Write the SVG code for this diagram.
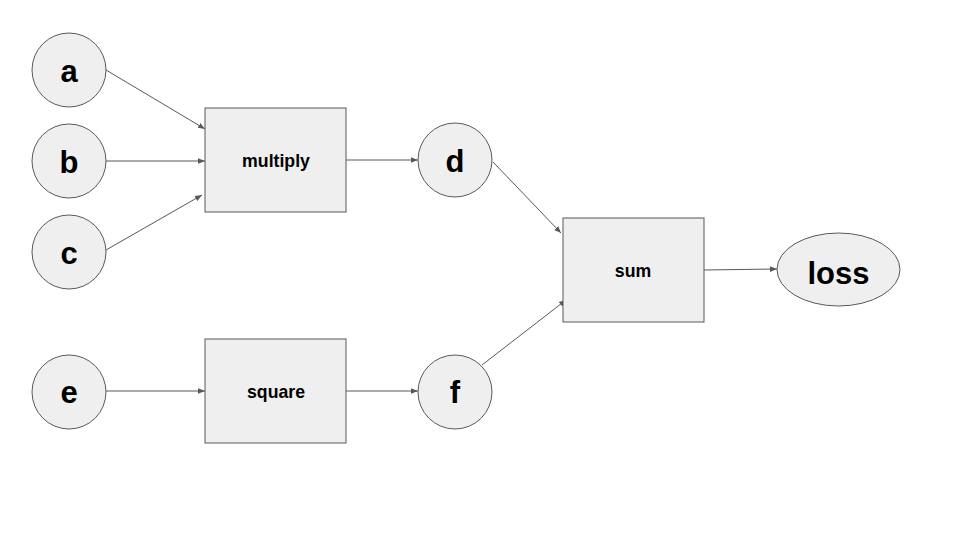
<svg xmlns="http://www.w3.org/2000/svg" width="960" height="540" viewBox="0 0 960 540">
<style>
.n{fill:#efefef;stroke:#595959;stroke-width:1}
.big{font-family:"Liberation Sans",Arial,sans-serif;font-weight:bold;font-size:31px;fill:#000;text-anchor:middle}
.sm{font-family:"Liberation Sans",Arial,sans-serif;font-weight:bold;font-size:17.7px;fill:#000;text-anchor:middle}
.e{stroke:#595959;stroke-width:1;fill:none;marker-end:url(#ah)}
</style>
<defs>
<marker id="ah" viewBox="0 0 10 10" refX="10" refY="5" markerWidth="7" markerHeight="7" markerUnits="userSpaceOnUse" orient="auto">
<path d="M0,1 L10,5 L0,9 Z" fill="#595959"/>
</marker>
</defs>
<rect width="960" height="540" fill="#fff"/>
<g id="connectors">
<line class="e" x1="106" y1="70" x2="205" y2="129"/>
<line class="e" x1="106" y1="161" x2="205" y2="161"/>
<line class="e" x1="106" y1="250" x2="202" y2="195"/>
<line class="e" x1="346" y1="160" x2="418" y2="160"/>
<line class="e" x1="493" y1="162" x2="561" y2="233"/>
<line class="e" x1="482" y1="365" x2="566" y2="300"/>
<line class="e" x1="704" y1="270" x2="777" y2="269"/>
<line class="e" x1="106" y1="391" x2="205" y2="391"/>
<line class="e" x1="346" y1="391" x2="418" y2="391"/>
</g>
<g id="a"><circle class="n" cx="69" cy="70" r="37"/><text class="big" x="69" y="82">a</text></g>
<g id="b"><circle class="n" cx="69" cy="161" r="37"/><text class="big" x="69" y="173">b</text></g>
<g id="c"><circle class="n" cx="69" cy="252" r="37"/><text class="big" x="69" y="264">c</text></g>
<g id="e"><circle class="n" cx="69" cy="392" r="37"/><text class="big" x="69" y="403">e</text></g>
<g id="multiply"><rect class="n" x="205" y="108" width="141" height="104"/><text class="sm" x="276" y="167">multiply</text></g>
<g id="square"><rect class="n" x="205" y="339" width="141" height="104"/><text class="sm" x="276" y="398">square</text></g>
<g id="d"><circle class="n" cx="455" cy="160" r="37"/><text class="big" x="455" y="172">d</text></g>
<g id="f"><circle class="n" cx="455" cy="392" r="37"/><text class="big" x="455" y="403">f</text></g>
<g id="sum"><rect class="n" x="563" y="218" width="141" height="104"/><text class="sm" x="633" y="277">sum</text></g>
<g id="loss"><ellipse class="n" cx="838.5" cy="269.5" rx="61.5" ry="36.5"/><text class="big" x="838.5" y="284">loss</text></g>
</svg>
